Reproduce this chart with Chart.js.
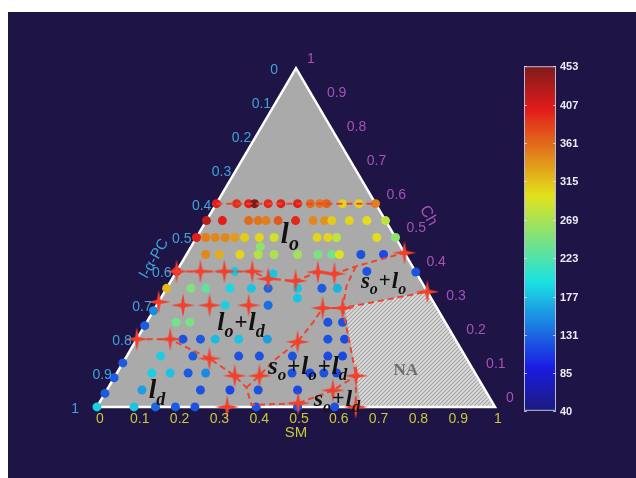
<!DOCTYPE html>
<html>
<head>
<meta charset="utf-8">
<script src="https://cdn.jsdelivr.net/npm/chart.js@4.4.1/dist/chart.umd.min.js"></script>
<style>
  html, body { margin: 0; padding: 0; background: #fff; }
</style>
</head>
<body>
<canvas id="c" width="636" height="478"></canvas>
<script>
// --- datos (composiciones ternarias: SM, Ch ; l-a-PC = 1 - SM - Ch) ---
const tickVals   = [0, 0.1, 0.2, 0.3, 0.4, 0.5, 0.6, 0.7, 0.8, 0.9, 1];
const tickLabels = ['0', '0.1', '0.2', '0.3', '0.4', '0.5', '0.6', '0.7', '0.8', '0.9', '1'];
const cbarTicks  = [40, 85, 131, 177, 223, 269, 315, 361, 407, 453];
const cbarMin = 40, cbarMax = 453;

const dotSM = [
  0, 0.051, 0.081, 0.096, 0.13, 0.162, 0.204, 0.236, 0.26, 0.277, 0.317, 0.358, 0.4,
  0, 0.04, 0.106, 0.13, 0.15, 0.18, 0.224, 0.268, 0.297, 0.315, 0.359, 0.403, 0.45,
  0, 0.023, 0.047, 0.072, 0.096, 0.121, 0.158, 0.195, 0.303, 0.33, 0.352, 0.453, 0.5,
  0.048, 0.082, 0.134, 0.18, 0.22, 0.279, 0.33, 0.365, 0.384, 0.438, 0.495, 0.174,
  0, 0.146, 0.246, 0.478, 0.602,
  0, 0.061, 0.098, 0.159, 0.213, 0.255, 0.329, 0.39, 0.429,
  0, 0.172, 0.28, 0.343, 0,
  0.074, 0.108, 0.455, 0.492,
  0.116, 0.16, 0.197, 0.256, 0.328, 0.48, 0.522,
  0, 0.085, 0.166, 0.281, 0.333, 0.416, 0.505, 0.542,
  0, 0.088, 0.134, 0.179, 0.223, 0.44, 0.485, 0.52, 0.552,
  0, 0.088, 0.235, 0.309, 0.38, 0.479,
  0, 0.093, 0.147, 0.197, 0.246, 0.4, 0.504, 0.597
];
const dotCh = [
  0.6, 0.6, 0.6, 0.6, 0.6, 0.6, 0.6, 0.6, 0.6, 0.6, 0.6, 0.6, 0.6,
  0.55, 0.55, 0.55, 0.55, 0.55, 0.55, 0.55, 0.55, 0.55, 0.55, 0.55, 0.55, 0.55,
  0.5, 0.5, 0.5, 0.5, 0.5, 0.5, 0.5, 0.5, 0.5, 0.5, 0.5, 0.5, 0.5,
  0.45, 0.45, 0.45, 0.45, 0.45, 0.45, 0.45, 0.45, 0.45, 0.45, 0.45, 0.473,
  0.4, 0.4, 0.393, 0.4, 0.398,
  0.35, 0.35, 0.35, 0.35, 0.35, 0.35, 0.35, 0.35, 0.35,
  0.284, 0.3, 0.3, 0.321, 0.24,
  0.25, 0.25, 0.25, 0.25,
  0.2, 0.2, 0.2, 0.2, 0.2, 0.2, 0.2,
  0.13, 0.15, 0.15, 0.15, 0.15, 0.15, 0.15, 0.15,
  0.086, 0.1, 0.1, 0.1, 0.1, 0.1, 0.1, 0.1, 0.1,
  0.04, 0.05, 0.05, 0.05, 0.05, 0.05,
  0, 0, 0, 0, 0, 0, 0, 0
];
const dotVal = [
  400, 390, 400, 453, 395, 400, 400, 360, 355, 365, 305, 305, 350,
  420, 400, 360, 355, 350, 370, 395, 345, 340, 310, 305, 300, 280,
  400, 350, 345, 345, 335, 310, 305, 290, 305, 305, 280, 300, 255,
  345, 325, 305, 275, 270, 265, 245, 240, 295, 120, 115, 255,
  400, 180, 180, 120, 120,
  320, 250, 230, 190, 180, 130, 180, 125, 170,
  150, 185, 135, 180, 125,
  240, 245, 120, 120,
  120, 125, 175, 180, 160, 120, 115,
  125, 185, 125, 120, 120, 120, 115, 115,
  125, 185, 180, 125, 150, 120, 115, 120, 115,
  125, 160, 120, 115, 120, 115,
  185, 180, 130, 125, 120, 120, 120, 120
];

// puntos de transición (estrellas rojas)
const crossSM = [0, 0.06, 0.12, 0.19, 0.241, 0.313, 0.356, 0.40, 0.545, 0.66,
                 0, 0.066, 0.133, 0.231, 0.421, 0.471,
                 0, 0.084, 0.408, 0.211, 0.30, 0.362, 0.605, 0.568, 0.327, 0.50, 0.65];
const crossCh = [0.4, 0.4, 0.4, 0.4, 0.378, 0.372, 0.398, 0.393, 0.455, 0.34,
                 0.31, 0.3, 0.3, 0.3, 0.292, 0.292,
                 0.2, 0.2, 0.192, 0.143, 0.092, 0.092, 0.092, 0.049, 0, 0.011, 0];

// límites de fase (pares [SM, Ch])
const bordeLo      = [[0, 0.6], [0.4, 0.6]];
const bordeLoLd    = [[0, 0.4], [0.19, 0.4], [0.241, 0.378], [0.313, 0.372], [0.356, 0.398],
                      [0.40, 0.393], [0.443, 0.415], [0.545, 0.455]];
const bordeSoLo    = [[0.443, 0.415], [0.448, 0.358], [0.471, 0.292], [0.66, 0.34]];
const bordeLd      = [[0, 0.2], [0.084, 0.2], [0.132, 0.178], [0.211, 0.143], [0.30, 0.092],
                      [0.347, 0.057], [0.385, 0.006], [0.50, 0.011], [0.568, 0.049], [0.605, 0.092]];
const bordeTres    = [[0.347, 0.057], [0.362, 0.092], [0.375, 0.135], [0.408, 0.192],
                      [0.418, 0.249], [0.421, 0.292], [0.471, 0.292]];
const bordeNA      = [[0.471, 0.292], [0.605, 0.092], [0.65, 0]];
const zonaNA       = [[0.475, 0.295], [0.66, 0.34], [1, 0], [0.663, 0], [0.475, 0.295]];
const triangulo    = [[0, 0], [1, 0], [0, 1], [0, 0]];

// etiquetas de fases: [SM, Ch] del inicio, tamaño, piezas
const fases = [
  { at: [0.220, 0.484], size: 29, parts: [['l', 'o']] },
  { at: [0.488, 0.350], size: 23, parts: [['s', 'o'], '+', ['l', 'o']] },
  { at: [0.189, 0.226], size: 26, parts: [['l', 'o'], '+', ['l', 'd']] },
  { at: [0.381, 0.097], size: 25, parts: [['s', 'o'], '+', ['l', 'o'], '+', ['l', 'd']] },
  { at: [0.117, 0.026], size: 27, parts: [['l', 'd']] },
  { at: [0.543, 0.003], size: 24, parts: [['s', 'o'], '+', ['l', 'd']] }
];

// --- geometría de la figura ---
const XMIN = -92 / 407, XMAX = XMIN + 636 / 407;
const YMIN = -66 / 349, YMAX = YMIN + 478 / 349;
const toXY = ([s, c]) => ({ x: s + c / 2, y: c });

function jet(v) {
  const t = (v - cbarMin) / (cbarMax - cbarMin);
  const cl = a => Math.max(0, Math.min(1, a));
  const r = cl(1.5 - Math.abs(4 * t - 3));
  const g = cl(1.5 - Math.abs(4 * t - 2));
  const b = cl(1.5 - Math.abs(4 * t - 1));
  const m = a => Math.round((0.78 * a + 0.22 * 0.48) * 255);
  return `rgb(${m(r)},${m(g)},${m(b)})`;
}

function crearEstrella() {
  const cv = document.createElement('canvas');
  cv.width = 26; cv.height = 26;
  const g = cv.getContext('2d');
  const c = 13, L = 12, w = 1.9;
  g.fillStyle = '#f2402c';
  g.beginPath();
  g.moveTo(c, c - L); g.lineTo(c + w, c - w); g.lineTo(c + L, c); g.lineTo(c + w, c + w);
  g.lineTo(c, c + L); g.lineTo(c - w, c + w); g.lineTo(c - L, c); g.lineTo(c - w, c - w);
  g.closePath();
  g.fill();
  return cv;
}

const canvas = document.getElementById('c');
const ctxMain = canvas.getContext('2d');

function crearRayado() {
  const cv = document.createElement('canvas');
  cv.width = 4; cv.height = 4;
  const g = cv.getContext('2d');
  g.fillStyle = '#dcdcdc';
  g.fillRect(0, 0, 4, 4);
  g.strokeStyle = '#a2a2a2';
  g.lineWidth = 1.1;
  g.beginPath();
  g.moveTo(0, 4); g.lineTo(4, 0);
  g.moveTo(-1, 1); g.lineTo(1, -1);
  g.moveTo(3, 5); g.lineTo(5, 3);
  g.stroke();
  return ctxMain.createPattern(cv, 'repeat');
}

const linea = (pts, order) => ({
  type: 'line', data: pts.map(toXY), showLine: true, fill: false,
  borderColor: '#f0442e', borderWidth: 2, borderDash: [6, 4],
  pointRadius: 0, tension: 0, order
});

// --- fondo, ejes ternarios, textos y barra de color ---
const fondo = {
  id: 'fondo',
  beforeDraw(chart) {
    const { ctx, width, height } = chart;
    ctx.save();
    ctx.fillStyle = '#ffffff';
    ctx.fillRect(0, 0, width, height);
    ctx.fillStyle = '#1e1445';
    ctx.fillRect(8, 12, width - 8, height - 12);
    ctx.restore();
  }
};

function dibujarFase(ctx, x0, y0, size, parts) {
  const big = `italic bold ${size}px "Liberation Serif", "DejaVu Serif", serif`;
  const sub = `italic bold ${Math.round(size * 0.68)}px "Liberation Serif", "DejaVu Serif", serif`;
  const plus = `bold ${Math.round(size * 0.9)}px "Liberation Serif", "DejaVu Serif", serif`;
  let x = x0;
  ctx.fillStyle = '#111111';
  ctx.textAlign = 'left';
  ctx.textBaseline = 'alphabetic';
  parts.forEach(p => {
    if (typeof p === 'string') {
      ctx.font = plus;
      ctx.fillText(p, x + 1, y0 - size * 0.05);
      x += ctx.measureText(p).width + 2;
    } else {
      ctx.font = big;
      ctx.fillText(p[0], x, y0);
      x += ctx.measureText(p[0]).width;
      ctx.font = sub;
      ctx.fillText(p[1], x, y0 + size * 0.24);
      x += ctx.measureText(p[1]).width;
    }
  });
}

const ternario = {
  id: 'ternario',
  afterDatasetsDraw(chart) {
    const { ctx, scales: { x, y, cb } } = chart;
    const P = (s, c) => [x.getPixelForValue(s + c / 2), y.getPixelForValue(c)];
    ctx.save();

    // etiquetas de las fases
    fases.forEach(f => {
      const [px, py] = P(f.at[0], f.at[1]);
      dibujarFase(ctx, px, py, f.size, f.parts);
    });
    let [nx, ny] = P(0.723, 0.106);
    ctx.font = 'bold 17px "Liberation Serif", "DejaVu Serif", serif';
    ctx.fillStyle = '#6e6e6e';
    ctx.textAlign = 'center';
    ctx.textBaseline = 'middle';
    ctx.fillText('NA', nx, ny);

    // marcas de los tres ejes
    ctx.font = '14px "Liberation Sans", Arial, sans-serif';
    ctx.textBaseline = 'middle';
    tickVals.forEach((v, i) => {
      let [px, py] = P(v, 0);
      ctx.fillStyle = '#c8c83a';
      ctx.textAlign = 'center';
      ctx.fillText(tickLabels[i], px + 3, py + 12);

      [px, py] = P(0, 1 - v);
      ctx.fillStyle = '#3ea4dc';
      ctx.textAlign = 'right';
      const extra = (i === 0 || i === tickVals.length - 1) ? 13 : 0;
      ctx.fillText(tickLabels[i], px - 5 - extra, py + 2);

      [px, py] = P(1 - v, v);
      ctx.fillStyle = '#a553b5';
      ctx.textAlign = 'left';
      ctx.fillText(tickLabels[i], px + 11, py - 9);
    });

    // títulos de los ejes
    ctx.font = '15px "Liberation Sans", Arial, sans-serif';
    ctx.textAlign = 'center';
    let [tx, ty] = P(0.5, 0);
    ctx.fillStyle = '#c8c83a';
    ctx.fillText('SM', tx, ty + 26);

    [tx, ty] = P(0, 0.5);
    ctx.save();
    ctx.translate(tx - 42, ty + 21);
    ctx.rotate(-Math.PI / 3);
    ctx.fillStyle = '#3ea4dc';
    ctx.fillText('l-α-PC', 0, 0);
    ctx.restore();

    [tx, ty] = P(0.5, 0.5);
    ctx.save();
    ctx.translate(tx + 33, ty - 22);
    ctx.rotate(Math.PI / 3);
    ctx.font = '16px "Liberation Sans", Arial, sans-serif';
    ctx.fillStyle = '#a553b5';
    ctx.fillText('Ch', 0, 0);
    ctx.restore();

    // barra de color
    const top = cb.getPixelForValue(cbarMax), bot = cb.getPixelForValue(cbarMin);
    const bx = 524, bw = 32;
    const grad = ctx.createLinearGradient(0, bot, 0, top);
    for (let i = 0; i <= 40; i++) {
      grad.addColorStop(i / 40, jet(cbarMin + (cbarMax - cbarMin) * i / 40));
    }
    ctx.fillStyle = grad;
    ctx.fillRect(bx, top, bw, bot - top);
    ctx.strokeStyle = '#b9b9d4';
    ctx.lineWidth = 1;
    ctx.strokeRect(bx + 0.5, top + 0.5, bw - 1, bot - top - 1);
    ctx.font = 'bold 11px "Liberation Sans", Arial, sans-serif';
    ctx.textAlign = 'left';
    ctx.textBaseline = 'middle';
    cbarTicks.forEach(v => {
      const py = Math.round(cb.getPixelForValue(v)) + 0.5;
      ctx.strokeStyle = 'rgba(230,230,245,0.7)';
      ctx.beginPath();
      ctx.moveTo(bx, py); ctx.lineTo(bx + 3, py);
      ctx.moveTo(bx + bw - 3, py); ctx.lineTo(bx + bw, py);
      ctx.stroke();
      ctx.fillStyle = '#ececf6';
      ctx.fillText(String(v), bx + bw + 4, py);
    });
    ctx.restore();
  }
};

// escala de la barra de color: 40 -> y=416, 453 -> y=61
const CB_R = (cbarMax - cbarMin) * 478 / (416 - 61);
const CB_MIN = cbarMin - (478 - 416) * CB_R / 478;

new Chart(canvas, {
  type: 'line',
  data: {
    datasets: [
      {
        data: triangulo.map(toXY), showLine: true, fill: 'shape',
        backgroundColor: '#aaaaaa', borderWidth: 0, pointRadius: 0, order: 10
      },
      {
        data: zonaNA.map(toXY), showLine: true, fill: 'shape',
        backgroundColor: crearRayado(), borderWidth: 0, pointRadius: 0, order: 9
      },
      {
        data: triangulo.map(toXY), showLine: true, fill: false,
        borderColor: '#ffffff', borderWidth: 2.5, pointRadius: 0, order: 8
      },
      {
        data: dotSM.map((s, i) => toXY([s, dotCh[i]])), showLine: false,
        pointRadius: 4.5, pointBorderWidth: 0, pointBorderColor: 'rgba(0,0,0,0)',
        pointBackgroundColor: dotVal.map(jet), order: 6
      },
      linea(bordeLo, 5),
      linea(bordeLoLd, 5),
      linea(bordeSoLo, 5),
      linea(bordeLd, 5),
      linea(bordeTres, 5),
      linea(bordeNA, 5),
      {
        data: crossSM.map((s, i) => toXY([s, crossCh[i]])), showLine: false,
        pointStyle: crearEstrella(), pointRadius: 6, order: 1
      }
    ]
  },
  options: {
    responsive: false,
    animation: false,
    events: [],
    layout: { padding: 0 },
    plugins: { legend: { display: false }, tooltip: { enabled: false } },
    scales: {
      x: { type: 'linear', min: XMIN, max: XMAX, display: false },
      y: { type: 'linear', min: YMIN, max: YMAX, display: false },
      cb: { type: 'linear', axis: 'y', min: CB_MIN, max: CB_MIN + CB_R, display: false }
    }
  },
  plugins: [fondo, ternario]
});
</script>
</body>
</html>
